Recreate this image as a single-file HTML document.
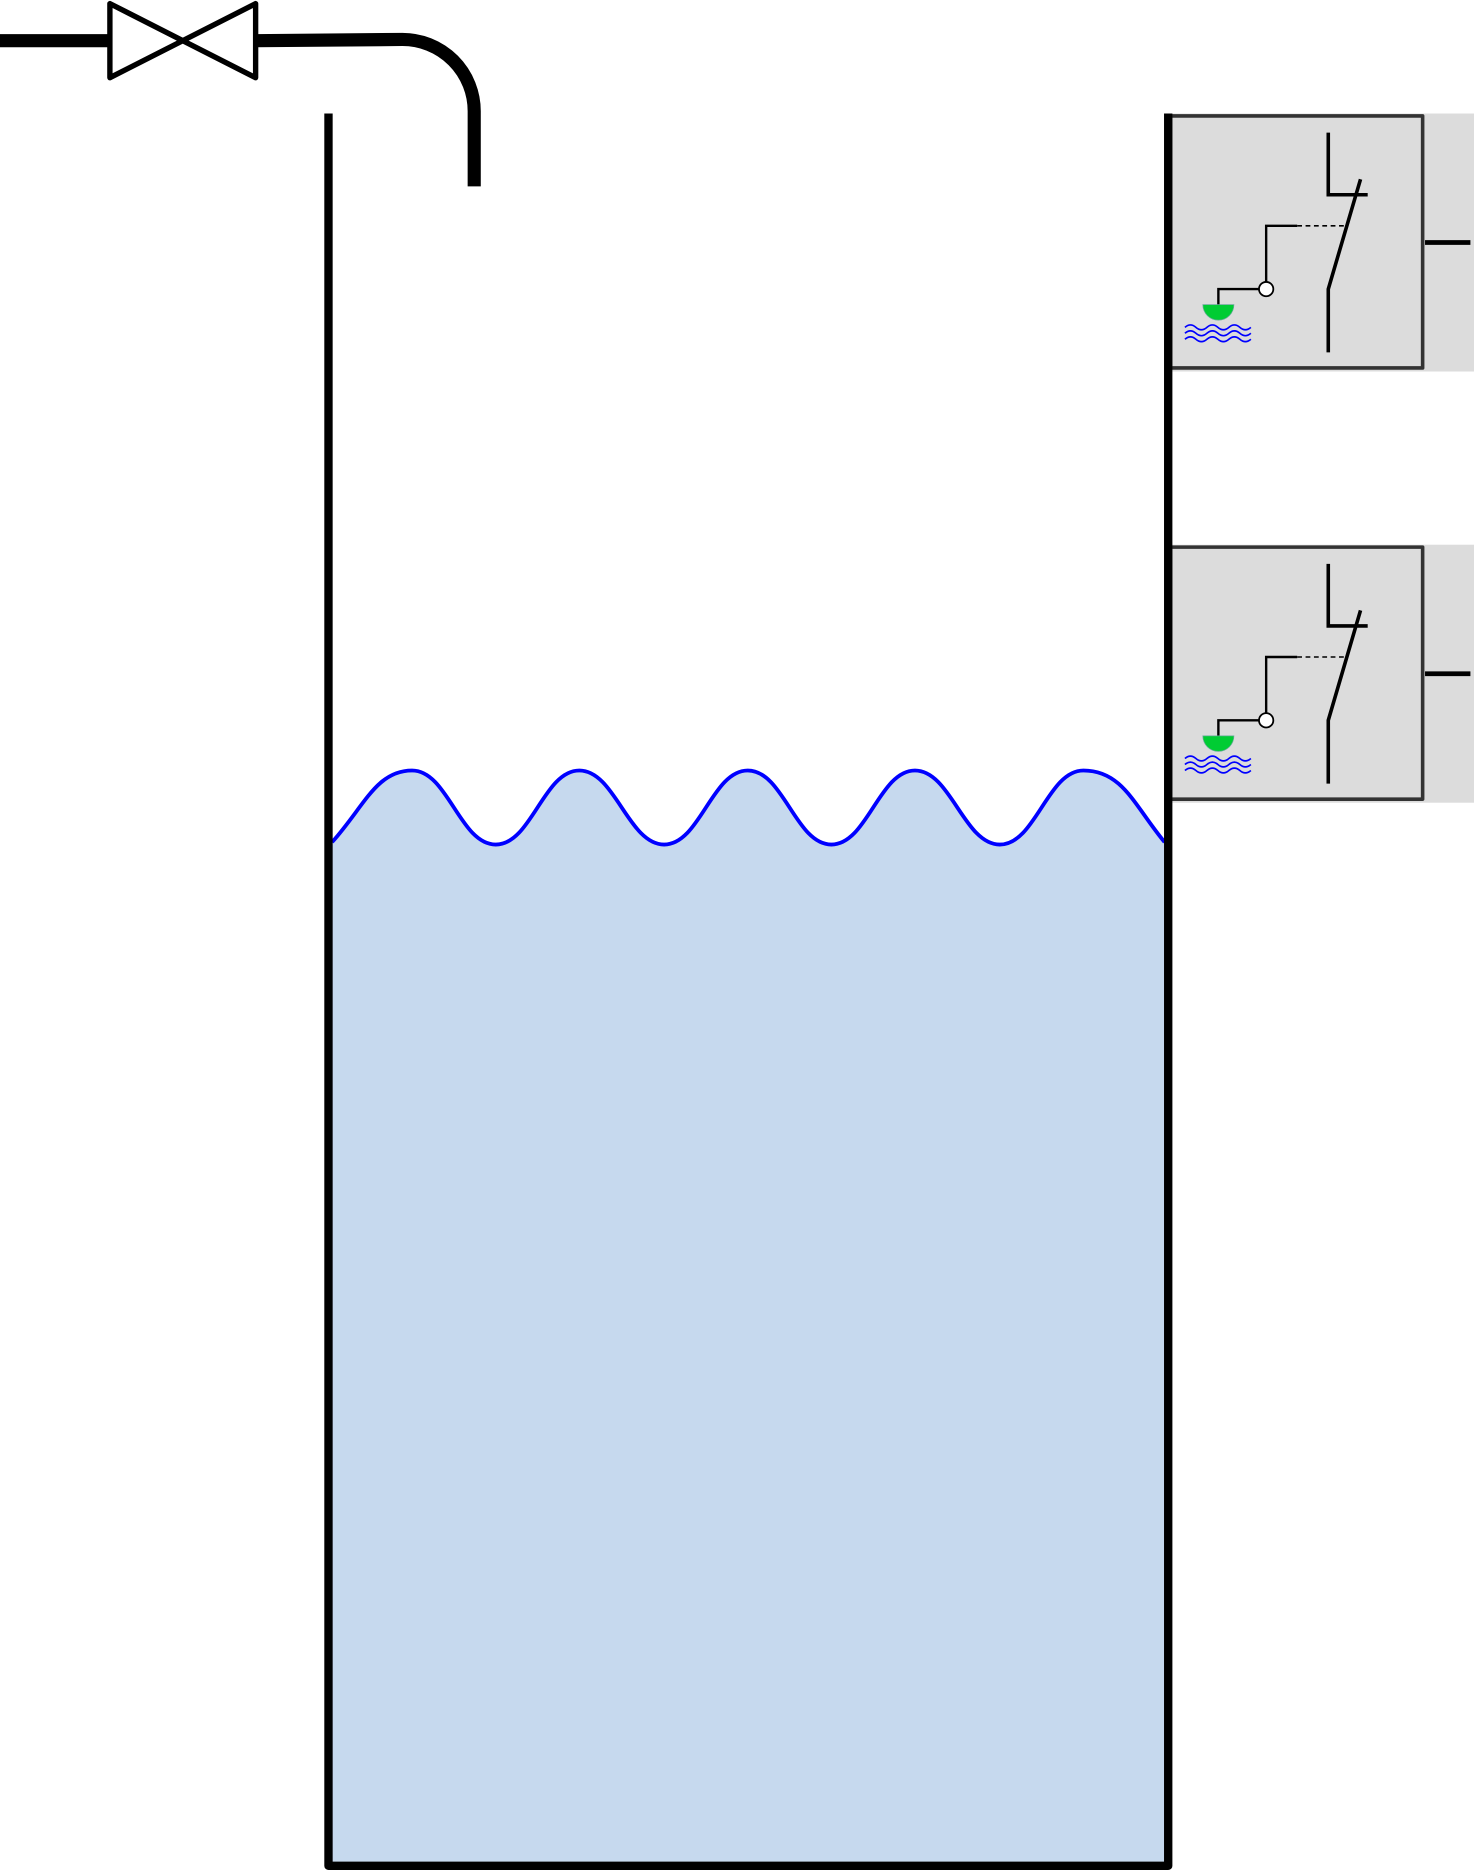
<!DOCTYPE html>
<html><head><style>html,body{margin:0;padding:0;background:#fff}svg{display:block}</style></head>
<body>
<svg width="1474" height="1871" viewBox="0 0 1234 1566.3" xmlns="http://www.w3.org/2000/svg">
<defs>
<g id="sw">
<rect x="980" y="95" width="254" height="216" fill="#dcdcdc"/>
<rect x="980" y="97" width="211" height="211" fill="#dcdcdc" stroke="#333" stroke-width="3" stroke-linejoin="round"/>
<line x1="1193" y1="203" x2="1231" y2="203" stroke="#000" stroke-width="4"/>
<polyline points="1112,111 1112,163 1145,163" fill="none" stroke="#000" stroke-width="3"/>
<polyline points="1112,295 1112,242 1139,150" fill="none" stroke="#000" stroke-width="3"/>
<polyline points="1060,236 1060,189 1086,189" fill="none" stroke="#000" stroke-width="2"/>
<line x1="1086" y1="189" x2="1128" y2="189" stroke="#000" stroke-width="1.3" stroke-dasharray="4,3"/>
<circle cx="1060" cy="242" r="6" fill="#fff" stroke="#000" stroke-width="1.5"/>
<polyline points="1054,242 1020,242 1020,255" fill="none" stroke="#000" stroke-width="2"/>
<path d="M1007,255 A13,13 0 0 0 1033,255 Z" fill="#00cc33" stroke="#6a9" stroke-width="0.6"/>
<g fill="none" stroke="#00f" stroke-width="1.4">
<path d="M992,274 q4.6,-4 9.2,0 t9.2,0 t9.2,0 t9.2,0 t9.2,0 t9.2,0"/>
<path d="M992,279 q4.6,-4 9.2,0 t9.2,0 t9.2,0 t9.2,0 t9.2,0 t9.2,0"/>
<path d="M992,284 q4.6,-4 9.2,0 t9.2,0 t9.2,0 t9.2,0 t9.2,0 t9.2,0"/>
</g>
</g>
</defs>
<path d="M278,705 C305,675 315,645 345,645 C375,645 385,707 415,707 C445,707 455,645 485,645 C515,645 526,707 556,707 C586,707 596,645 626,645 C656,645 666,707 696,707 C726,707 736,645 766,645 C796,645 807,707 837,707 C867,707 877,645 907,645 C940,645 950,675 975,705 L975,1562 L278,1562 Z" fill="#c6d9ee"/>
<path d="M278,705 C305,675 315,645 345,645 C375,645 385,707 415,707 C445,707 455,645 485,645 C515,645 526,707 556,707 C586,707 596,645 626,645 C656,645 666,707 696,707 C726,707 736,645 766,645 C796,645 807,707 837,707 C867,707 877,645 907,645 C940,645 950,675 975,705" fill="none" stroke="#00f" stroke-width="3.2"/>
<use href="#sw"/>
<use href="#sw" transform="translate(0,361)"/>
<polyline points="275,95 275,1562 978,1562 978,95" fill="none" stroke="#000" stroke-width="7" stroke-linejoin="round"/>
<line x1="0" y1="34" x2="92" y2="34" stroke="#000" stroke-width="11"/>
<path d="M214,34 L337,33 A60,60 0 0 1 397,93 L397,156" fill="none" stroke="#000" stroke-width="11"/>
<path d="M92,3 L92,65 L214,3 L214,65 Z" fill="#fff" stroke="#000" stroke-width="4.5" stroke-linejoin="round"/>
</svg>
</body></html>
